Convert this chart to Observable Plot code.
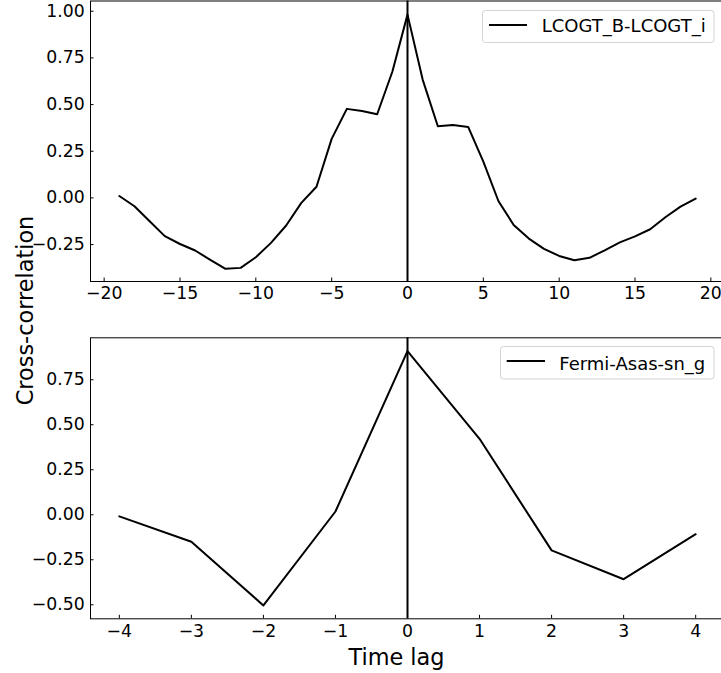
<!DOCTYPE html>
<html>
<head>
<meta charset="utf-8">
<script src="https://cdn.jsdelivr.net/npm/d3@7"></script>
<script src="https://cdn.jsdelivr.net/npm/@observablehq/plot@0.6"></script>
<style>
  html, body { margin: 0; padding: 0; background: white; overflow: hidden; }
  #wrap { position: relative; width: 721px; height: 673px; overflow: hidden; background: white; font-family: "DejaVu Sans", sans-serif; }
  #wrap > svg, #wrap > div { position: absolute; left: 0; }
</style>
</head>
<body>
<div id="wrap"></div>
<script>
// ---- Data ----
const lagsTop = [-19,-18,-17,-16,-15,-14,-13,-12,-11,-10,-9,-8,-7,-6,-5,-4,-3,-2,-1,0,1,2,3,4,5,6,7,8,9,10,11,12,13,14,15,16,17,18,19];
const corrTop = [0.01,-0.045,-0.125,-0.205,-0.247,-0.282,-0.332,-0.38,-0.375,-0.318,-0.241,-0.148,-0.027,0.06,0.316,0.477,0.466,0.448,0.676,0.982,0.634,0.384,0.391,0.38,0.194,-0.018,-0.145,-0.218,-0.273,-0.311,-0.334,-0.321,-0.281,-0.238,-0.206,-0.168,-0.104,-0.047,-0.004];
const labelTop = "LCOGT_B-LCOGT_i";

const lagsBottom = [-4,-3,-2,-1,0,1,2,3,4];
const corrBottom = [-0.009,-0.15,-0.504,0.018,0.909,0.422,-0.198,-0.358,-0.108];
const labelBottom = "Fermi-Asas-sn_g";

const xTicksTop = [-20,-15,-10,-5,0,5,10,15,20];
const yTicksTop = [-0.25,0,0.25,0.5,0.75,1.0];
const xTicksBottom = [-4,-3,-2,-1,0,1,2,3,4];
const yTicksBottom = [-0.5,-0.25,0,0.25,0.5,0.75];

const xLabel = "Time lag";
const yLabel = "Cross-correlation";

// ---- Helpers ----
const minus = "\u2212";
const fmtInt = d => (d < 0 ? minus : "") + Math.abs(d);
const fmt2 = d => (d < 0 ? minus : "") + Math.abs(d).toFixed(2);
const TICK_FS = 17.3;

function panel({lags, corr, xDomain, yDomain, xTicks, yTicks, height, marginTop, marginBottom}) {
  const data = lags.map((x, i) => ({x, y: corr[i]}));
  return Plot.plot({
    width: 724,
    height,
    marginLeft: 90,
    marginRight: 0,
    marginTop,
    marginBottom,
    style: {fontFamily: "'DejaVu Sans', sans-serif", fontSize: TICK_FS + "px", background: "transparent", maxWidth: "none", overflow: "visible", color: "black"},
    x: {domain: xDomain},
    y: {domain: yDomain},
    marks: [
      Plot.ruleX([0], {stroke: "black", strokeWidth: 2}),
      Plot.line(data, {x: "x", y: "y", stroke: "black", strokeWidth: 2}),
      Plot.frame({stroke: "black", strokeWidth: 1}),
      Plot.axisX(xTicks, {anchor: "bottom", tickSize: 0, tickPadding: 5.7, tickFormat: fmtInt, label: null, fontSize: TICK_FS, fill: "black"}),
      Plot.axisY(yTicks, {anchor: "left", tickSize: 0, tickPadding: 5.7, tickFormat: fmt2, label: null, fontSize: TICK_FS, fill: "black"}),
      Plot.axisX(xTicks, {anchor: "bottom", tickSize: 3.5, dy: -3.5, tickFormat: () => "", label: null, stroke: "black"}),
      Plot.axisY(yTicks, {anchor: "left", tickSize: 3.5, dx: 3.5, tickFormat: () => "", label: null, stroke: "black"})
    ]
  });
}

const wrap = document.getElementById("wrap");

const topPanel = panel({
  lags: lagsTop, corr: corrTop,
  xDomain: [-20.9, 20.9], yDomain: [-0.448, 1.055],
  xTicks: xTicksTop, yTicks: yTicksTop,
  height: 300, marginTop: 0.5, marginBottom: 19
});
topPanel.style.top = "0px";
wrap.appendChild(topPanel);

const bottomPanel = panel({
  lags: lagsBottom, corr: corrBottom,
  xDomain: [-4.4, 4.4], yDomain: [-0.578, 0.983],
  xTicks: xTicksBottom, yTicks: yTicksBottom,
  height: 373, marginTop: 37.3, marginBottom: 54.7
});
bottomPanel.style.top = "300px";
wrap.appendChild(bottomPanel);

// ---- Overlay: legends and shared axis labels ----
const NS = "http://www.w3.org/2000/svg";
const ov = document.createElementNS(NS, "svg");
ov.setAttribute("width", 721);
ov.setAttribute("height", 673);
ov.style.position = "absolute";
ov.style.left = "0px";
ov.style.top = "0px";
ov.style.pointerEvents = "none";
ov.setAttribute("font-family", "'DejaVu Sans', sans-serif");
wrap.appendChild(ov);

function el(tag, attrs, text) {
  const e = document.createElementNS(NS, tag);
  for (const k in attrs) e.setAttribute(k, attrs[k]);
  if (text != null) e.textContent = text;
  ov.appendChild(e);
  return e;
}

function legend(box, line, textX, baseline, label) {
  el("rect", {x: box[0], y: box[1], width: box[2], height: box[3], rx: 3, ry: 3, fill: "white", "fill-opacity": 0.8, stroke: "#d4d4d4", "stroke-width": 1});
  el("line", {x1: line[0], x2: line[1], y1: line[2], y2: line[2], stroke: "black", "stroke-width": 2});
  el("text", {x: textX, y: baseline, "font-size": 18, fill: "black"}, label);
}
legend([482.5, 10.5, 231.5, 32], [489, 527, 25], 541.7, 31.7, labelTop);
legend([500.5, 346.5, 213.5, 32.5], [506.7, 545, 361], 559.3, 369.8, labelBottom);

el("text", {x: 396.5, y: 665, "text-anchor": "middle", "font-size": 22.4, fill: "black"}, xLabel);
el("text", {x: 0, y: 0, transform: "translate(32.5,310.5) rotate(-90)", "text-anchor": "middle", "font-size": 22.4, fill: "black"}, yLabel);
</script>
</body>
</html>
